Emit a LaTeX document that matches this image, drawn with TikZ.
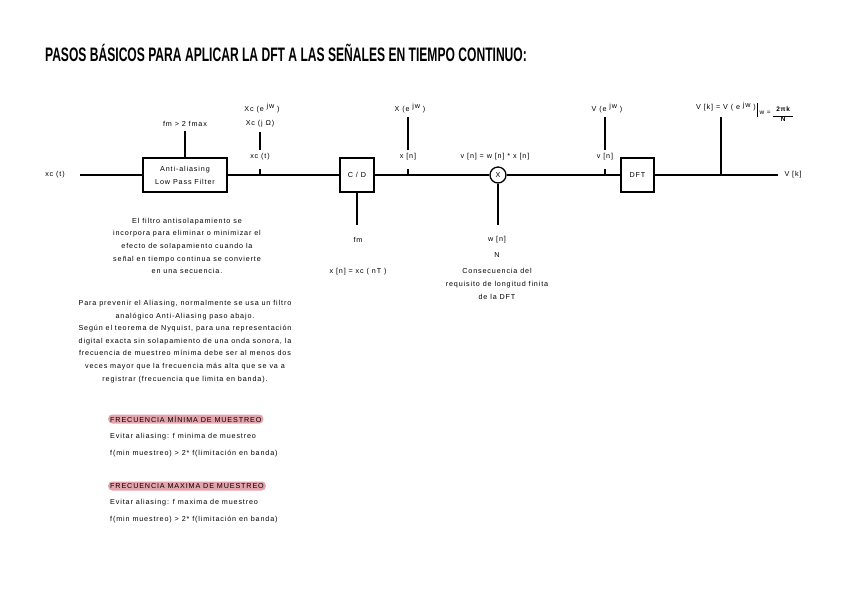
\documentclass[tikz,border=0pt]{standalone}
\usepackage{fontspec}
\setmainfont{Liberation Sans}[LetterSpace=12]
\newfontfamily\titlefont{Liberation Sans}
\definecolor{hlpink}{HTML}{E3A4AC}
\newcommand{\supjw}{\raisebox{2.6pt}{jw}}
\begin{document}
\begin{tikzpicture}[x=1pt,y=-1pt,
  every node/.style={font=\fontsize{7.2}{12.6}\selectfont, inner sep=0pt},
  sig/.style={line width=1.3pt},
  blockbox/.style={draw, line width=1.3pt, minimum height=34pt, align=center, font=\fontsize{7.2}{13}\selectfont},
  hl/.style={anchor=west, fill=hlpink, rounded corners=4pt, inner xsep=2pt, minimum height=9pt},
  para/.style={align=center}]
\useasboundingbox (0,0) rectangle (848,599);
% title
\node (title) at (286,53) {\scalebox{0.62}[1]{\titlefont\bfseries\fontsize{19.5}{19.5}\selectfont PASOS BÁSICOS PARA APLICAR LA DFT A LAS SEÑALES EN TIEMPO CONTINUO:}};
% main chain
\node (in) at (55,175) {xc (t)};
\coordinate (inend) at (80,175);
\node[blockbox, minimum width=84pt] (lpf) at (185,175) {Anti-aliasing\\Low Pass Filter};
\node[blockbox, minimum width=34pt] (cd) at (357,175) {C / D};
\node[circle, draw, line width=1.3pt, minimum size=16pt] (mul) at (498,175) {X};
\node[blockbox, minimum width=33pt] (dft) at (637.5,175) {DFT};
\coordinate (outend) at (778,175);
\node (out) at (793,175) {V [k]};
\draw[sig] (inend) -- (lpf.west);
\draw[sig] (lpf.east) -- (cd.west);
\draw[sig] (cd.east) -- (mul.west);
\draw[sig] (mul.east) -- (dft.west);
\draw[sig] (dft.east) -- (outend);
% taps
\coordinate (tap1) at (260,175);
\coordinate (tap2) at (408,175);
\coordinate (tap3) at (605,175);
\coordinate (tap4) at (721,175);
\draw[sig] (tap1) -- ++(0,-6);
\draw[sig] (tap2) -- ++(0,-6);
\draw[sig] (tap3) -- ++(0,-6);
% filter spec
\node (fspec) at (185,124) {fm > 2 fmax};
\coordinate (fspecb) at (185,131);
\draw[sig] (lpf.north) -- (fspecb);
% tap1 labels
\node (xct) at (260,157) {xc (t)};
\node (xcjw) at (260,124) {Xc (j Ω)};
\node (xcew) at (262,108) {Xc (e \supjw\ )};
\coordinate (t1a) at (260,150);
\coordinate (t1b) at (260,132);
\draw[sig] (t1a) -- (t1b);
% tap2 labels
\node (xn) at (408,157) {x [n]};
\node (xew) at (410,108) {X (e \supjw\ )};
\coordinate (t2a) at (408,150);
\coordinate (t2b) at (408,117);
\draw[sig] (t2a) -- (t2b);
% multiplier label
\node (vlab) at (495,157) {v [n] = w [n] * x [n]};
% tap3 labels
\node (vn) at (605,157) {v [n]};
\node (vew) at (607,108) {V (e \supjw\ )};
\coordinate (t3a) at (605,150);
\coordinate (t3b) at (605,117);
\draw[sig] (t3a) -- (t3b);
% tap4
\coordinate (t4b) at (721,117);
\draw[sig] (tap4) -- (t4b);
\node[anchor=base west] (vk) at (696,110) {V [k] = V ( e \supjw\ )\,\rule[-7pt]{1.3pt}{14pt}\,\raisebox{-4.5pt}{\fontsize{6.5}{7}\selectfont w = }\raisebox{-6.5pt}{\fontsize{6.5}{7}\selectfont\bfseries\begin{tabular}{@{}c@{}}2πk\\[-2.5pt]\rule{20pt}{0.6pt}\\[-2pt]N\end{tabular}}};
% C/D down
\coordinate (cdd) at (357,225);
\draw[sig] (cd.south) -- (cdd);
\node (fm) at (358,240) {fm};
\node (xnT) at (358,272) {x [n] = xc ( nT )};
% mult down
\coordinate (muld) at (498,225);
\draw[sig] (mul.south) -- (muld);
\node (wn) at (497,240) {w [n]};
\node (N) at (497,255) {N};
\node[para] (cons) at (497,284) {Consecuencia del\\requisito de longitud finita\\de la DFT};
% paragraphs
\node[para] (p1) at (187,246) {El filtro antisolapamiento se\\incorpora para eliminar o minimizar el\\efecto de solapamiento cuando la\\señal en tiempo continua se convierte\\en una secuencia.};
\node[para] (p2) at (185,341.5) {Para prevenir el Aliasing, normalmente se usa un filtro\\analógico Anti-Aliasing paso abajo.\\Según el teorema de Nyquist, para una representación\\digital exacta sin solapamiento de una onda sonora, la\\frecuencia de muestreo mínima debe ser al menos dos\\veces mayor que la frecuencia más alta que se va a\\registrar (frecuencia que limita en banda).};
% notes
\node[hl] (h1) at (108,419) {FRECUENCIA MÍNIMA DE MUESTREO};
\node[anchor=west] (n1) at (110,437) {Evitar aliasing: f minima de muestreo};
\node[anchor=west] (n2) at (110,454) {f(min muestreo) > 2* f(limitación en banda)};
\node[hl] (h2) at (108,486) {FRECUENCIA MAXIMA DE MUESTREO};
\node[anchor=west] (n3) at (110,503) {Evitar aliasing: f maxima de muestreo};
\node[anchor=west] (n4) at (110,520) {f(min muestreo) > 2* f(limitación en banda)};
\end{tikzpicture}
\end{document}
